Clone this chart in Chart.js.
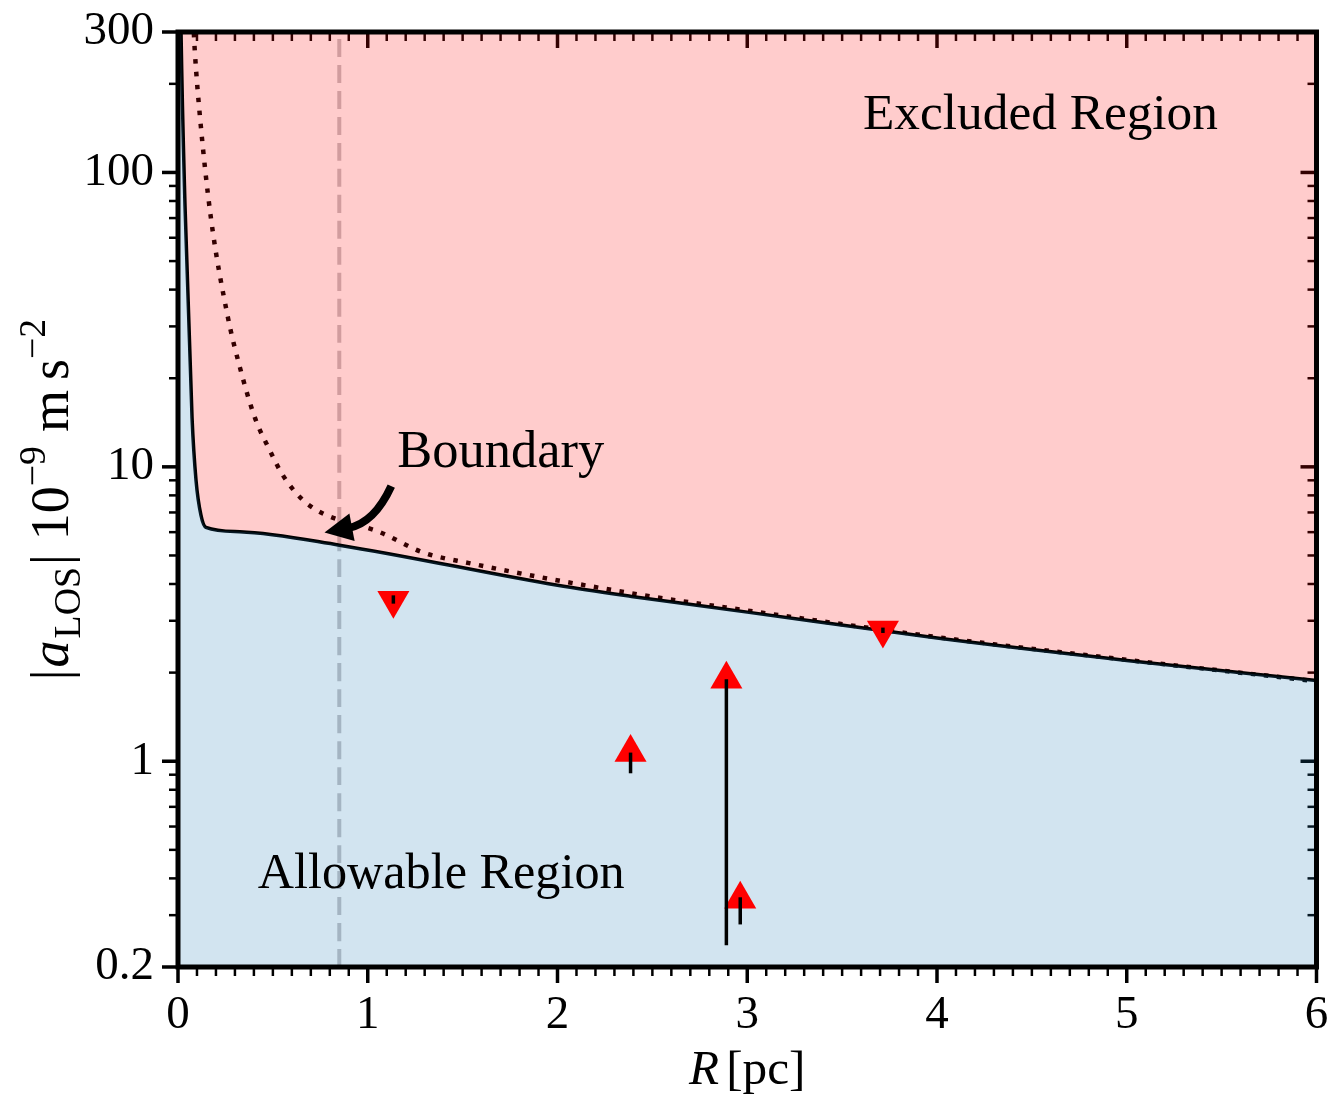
<!DOCTYPE html>
<html>
<head>
<meta charset="utf-8">
<script src="https://cdn.jsdelivr.net/npm/chart.js@4.4.1/dist/chart.umd.min.js"></script>
<style>
  html, body { margin: 0; padding: 0; background: #fff; }
  #wrap { width: 1335px; height: 1100px; }
</style>
</head>
<body>
<div id="wrap"><canvas id="accelChart" width="1335" height="1100"></canvas></div>
<script>
// boundary between allowed and excluded accelerations (solid line)
const boundaryR = [0, 0.016, 0.037, 0.074, 0.095, 0.121, 0.147, 0.326, 0.851, 2.0, 2.39, 3.0, 4.0, 5.0, 6.0];
const boundaryA = [2000, 300, 77, 14.7, 9.0, 6.85, 6.23, 6.02, 5.42, 3.96, 3.63, 3.21, 2.62, 2.20, 1.88];

// dotted limit curve
const limitR = [0.08, 0.089, 0.116, 0.173, 0.263, 0.326, 0.405, 0.483, 0.552, 0.678, 1.077, 1.287, 1.534, 2.39, 3.0, 4.0, 5.0, 6.0];
const limitA = [330, 256, 154, 70.4, 32.2, 21.8, 14.7, 11.4, 9.38, 7.52, 5.95, 5.13, 4.71, 3.72, 3.25, 2.64, 2.21, 1.87];

// pulsar measurements: upper limits (down triangles) and lower limits (up triangles)
const upperR = [1.135, 3.715];
const upperA = [3.52, 2.79];
const upperErrLow = [3.43, 2.77];
const upperErrHigh = [3.66, 2.80];

const lowerR = [2.385, 2.89, 2.963];
const lowerA = [1.07, 1.90, 0.34];
const lowerErrLow = [0.91, 0.237, 0.279];
const lowerErrHigh = [1.07, 1.90, 0.345];

const cutoffR = 0.85;

const xTickValues = [0, 1, 2, 3, 4, 5, 6];
const yTickValues = [0.2, 1, 10, 100, 300];
const yTickLabels = ["0.2", "1", "10", "100", "300"];
const yMin = 0.2;
const yMax = 300;

const serif = "'Liberation Serif', 'DejaVu Serif', serif";

function toPoints(xs, ys) {
  return xs.map((x, i) => ({ x: x, y: ys[i] }));
}

function minorLogTicks() {
  const out = [];
  for (const decade of [0.1, 1, 10, 100]) {
    for (let k = 2; k <= 9; k += 1) {
      const v = +(k * decade).toPrecision(3);
      if (v > yMin && v < yMax && !yTickValues.includes(v)) out.push(v);
    }
  }
  return out;
}

function fontFor(size, italic) {
  return (italic ? "italic " : "") + size + "px " + serif;
}

// parts look like [{t, it, sub, sup, gap}], drawn left to right on one baseline
function richWidth(ctx, parts, size) {
  let w = 0;
  for (const p of parts) {
    const s = p.sub || p.sup ? size * 0.7 : size;
    ctx.font = fontFor(s, p.it);
    w += ctx.measureText(p.t).width + (p.gap || 0);
  }
  return w;
}

function drawRich(ctx, parts, size, x, y) {
  let cx = x;
  for (const p of parts) {
    const s = p.sub || p.sup ? size * 0.7 : size;
    ctx.font = fontFor(s, p.it);
    let dy = 0;
    if (p.sub) dy = size * 0.22;
    if (p.sup) dy = -size * 0.42;
    ctx.fillText(p.t, cx, y + dy);
    cx += ctx.measureText(p.t).width + (p.gap || 0);
  }
}

function fitSize(ctx, parts, targetWidth) {
  return 40 * targetWidth / richWidth(ctx, parts, 40);
}

function noOverflow(scale) {
  scale.paddingLeft = 0;
  scale.paddingRight = 0;
  scale.paddingTop = 0;
  scale.paddingBottom = 0;
}

const frameAndTicks = {
  id: "frameAndTicks",
  beforeDatasetsDraw(chart) {
    const { ctx, chartArea: a, scales } = chart;
    const xs = scales.x;
    const ys = scales.y;
    ctx.save();
    ctx.strokeStyle = "#000";
    ctx.lineCap = "butt";
    const seg = (x1, y1, x2, y2, w) => {
      ctx.lineWidth = w;
      ctx.beginPath();
      ctx.moveTo(x1, y1);
      ctx.lineTo(x2, y2);
      ctx.stroke();
    };
    for (let i = 0; i <= 60; i += 1) {
      const px = xs.getPixelForValue(i / 10);
      const major = i % 10 === 0;
      const len = major ? 16 : 9;
      const w = major ? 3.5 : 2.5;
      seg(px, a.bottom, px, a.bottom + len, w);
      seg(px, a.top, px, a.top + len, w);
    }
    for (const v of yTickValues) {
      const py = ys.getPixelForValue(v);
      seg(a.left - 16, py, a.left, py, 3.5);
      seg(a.right - 16, py, a.right, py, 3.5);
    }
    for (const v of minorLogTicks()) {
      const py = ys.getPixelForValue(v);
      seg(a.left - 9, py, a.left, py, 2.5);
      seg(a.right - 9, py, a.right, py, 2.5);
    }
    ctx.restore();
  },
  afterDatasetsDraw(chart) {
    const { ctx, chartArea: a, scales } = chart;
    const xs = scales.x;
    const ys = scales.y;
    ctx.save();
    // error bars sit on top of the markers
    ctx.strokeStyle = "#000";
    ctx.lineWidth = 3.5;
    const bars = (rs, lo, hi) => {
      rs.forEach((r, i) => {
        const px = xs.getPixelForValue(r);
        let y1 = ys.getPixelForValue(lo[i]);
        let y2 = ys.getPixelForValue(hi[i]);
        if (Math.abs(y1 - y2) < 3) { y1 += 2; y2 -= 2; }
        ctx.beginPath();
        ctx.moveTo(px, y1);
        ctx.lineTo(px, y2);
        ctx.stroke();
      });
    };
    bars(upperR, upperErrLow, upperErrHigh);
    bars(lowerR, lowerErrLow, lowerErrHigh);

    ctx.lineWidth = 5;
    ctx.strokeRect(a.left, a.top, a.right - a.left, a.bottom - a.top);
    ctx.restore();
  },
  afterDraw(chart) {
    const { ctx, chartArea: a, scales } = chart;
    const xs = scales.x;
    const ys = scales.y;
    ctx.save();
    ctx.fillStyle = "#000";
    ctx.textBaseline = "alphabetic";
    ctx.textAlign = "left";

    // region labels
    const labels = [
      { t: "Excluded Region", r: 3.61, a: 141, w: 355 },
      { t: "Boundary", r: 1.156, a: 10, w: 207 },
      { t: "Allowable Region", r: 0.42, a: 0.37, w: 367 }
    ];
    for (const l of labels) {
      const parts = [{ t: l.t }];
      const size = fitSize(ctx, parts, l.w);
      drawRich(ctx, parts, size, xs.getPixelForValue(l.r), ys.getPixelForValue(l.a));
    }

    // curved arrow pointing at the boundary
    const p0 = { x: xs.getPixelForValue(1.124), y: ys.getPixelForValue(8.6) };
    const tip = { x: xs.getPixelForValue(0.772), y: ys.getPixelForValue(5.98) };
    const ctrl = { x: p0.x - 17, y: p0.y + 37 };
    const dx = tip.x - ctrl.x;
    const dy = tip.y - ctrl.y;
    const len = Math.hypot(dx, dy);
    const ux = dx / len;
    const uy = dy / len;
    const headLen = 28;
    const headHalf = 14;
    const base = { x: tip.x - ux * headLen, y: tip.y - uy * headLen };
    ctx.strokeStyle = "#000";
    ctx.lineWidth = 8;
    ctx.beginPath();
    ctx.moveTo(p0.x, p0.y);
    ctx.quadraticCurveTo(ctrl.x, ctrl.y, base.x + ux * 4, base.y + uy * 4);
    ctx.stroke();
    ctx.beginPath();
    ctx.moveTo(tip.x, tip.y);
    ctx.lineTo(base.x - uy * headHalf, base.y + ux * headHalf);
    ctx.lineTo(base.x + uy * headHalf, base.y - ux * headHalf);
    ctx.closePath();
    ctx.fill();

    // x axis title
    const xParts = [{ t: "R", it: true, gap: 7 }, { t: "[pc]" }];
    const xSize = fitSize(ctx, xParts, 118);
    const xw = richWidth(ctx, xParts, xSize);
    drawRich(ctx, xParts, xSize, (a.left + a.right) / 2 - xw / 2, 1084);

    // y axis title
    const yParts = [
      { t: "|", gap: 2 }, { t: "a", it: true, gap: 2 }, { t: "LOS", sub: true, gap: 2 }, { t: "|", gap: 14 },
      { t: "10" }, { t: "\u22129", sup: true, gap: 14 }, { t: "m", gap: 10 }, { t: "s" }, { t: "\u22122", sup: true }
    ];
    const ySize = 54;
    const yw = richWidth(ctx, yParts, ySize);
    ctx.translate(68, (a.top + a.bottom) / 2);
    ctx.rotate(-Math.PI / 2);
    drawRich(ctx, yParts, ySize, -yw / 2, 0);
    ctx.restore();
  }
};

const lineBase = {
  showLine: true,
  pointRadius: 0,
  pointHoverRadius: 0,
  cubicInterpolationMode: "monotone"
};

new Chart(document.getElementById("accelChart").getContext("2d"), {
  type: "scatter",
  data: {
    datasets: [
      {
        ...lineBase,
        label: "cutoff",
        data: [{ x: cutoffR, y: yMin }, { x: cutoffR, y: yMax }],
        borderColor: "#c6c3c6",
        borderWidth: 4,
        borderDash: [18, 8],
        order: 5
      },
      {
        ...lineBase,
        label: "limit",
        data: toPoints(limitR, limitA),
        borderColor: "#000",
        borderWidth: 4.5,
        borderDash: [4.5, 8.5],
        order: 4
      },
      {
        ...lineBase,
        label: "excluded",
        data: toPoints(boundaryR, boundaryA),
        borderColor: "#000",
        borderWidth: 3.5,
        backgroundColor: "rgba(255,0,0,0.2)",
        fill: "end",
        order: 3
      },
      {
        ...lineBase,
        label: "allowed",
        data: toPoints(boundaryR, boundaryA),
        borderWidth: 0,
        borderColor: "rgba(0,0,0,0)",
        backgroundColor: "rgba(31,119,180,0.2)",
        fill: "start",
        order: 2
      },
      {
        label: "upper limits",
        data: toPoints(upperR, upperA),
        pointStyle: "triangle",
        rotation: 180,
        pointRadius: 18.5,
        pointHoverRadius: 18.5,
        backgroundColor: "#ff0000",
        borderWidth: 0,
        order: 1
      },
      {
        label: "lower limits",
        data: toPoints(lowerR, lowerA),
        pointStyle: "triangle",
        rotation: 0,
        pointRadius: 18.5,
        pointHoverRadius: 18.5,
        backgroundColor: "#ff0000",
        borderWidth: 0,
        order: 1
      }
    ]
  },
  options: {
    responsive: false,
    animation: false,
    events: [],
    layout: { padding: { top: 32, right: 12, left: 0, bottom: 0 } },
    plugins: {
      legend: { display: false },
      tooltip: { enabled: false }
    },
    scales: {
      x: {
        type: "linear",
        min: 0,
        max: 6,
        afterBuildTicks: scale => { scale.ticks = xTickValues.map(v => ({ value: v })); },
        afterFit: scale => { scale.height = 133; noOverflow(scale); },
        grid: { display: false, drawTicks: false },
        border: { display: false },
        ticks: {
          padding: 20,
          color: "#000",
          font: { family: serif, size: 47 },
          callback: value => String(value)
        }
      },
      y: {
        type: "logarithmic",
        min: yMin,
        max: yMax,
        afterBuildTicks: scale => { scale.ticks = yTickValues.map(v => ({ value: v })); },
        afterFit: scale => { scale.width = 178; noOverflow(scale); },
        grid: { display: false, drawTicks: false },
        border: { display: false },
        ticks: {
          padding: 24,
          color: "#000",
          font: { family: serif, size: 47 },
          callback: (value, index) => yTickLabels[index]
        }
      }
    }
  },
  plugins: [frameAndTicks]
});
</script>
</body>
</html>
